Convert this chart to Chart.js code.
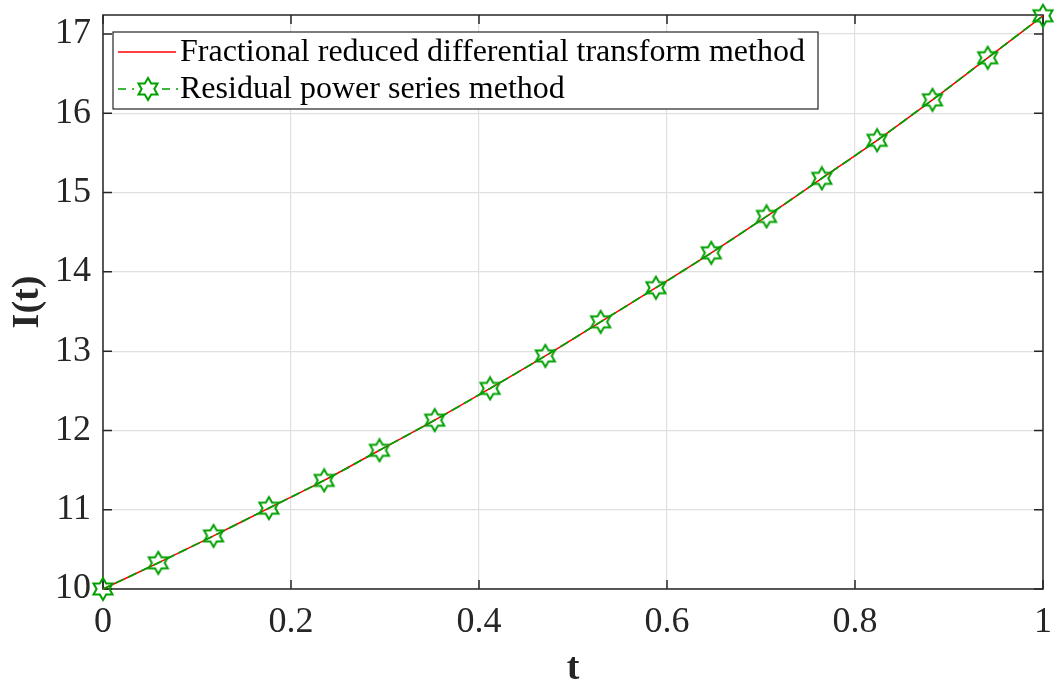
<!DOCTYPE html>
<html lang="en">
<head>
  <meta charset="UTF-8">
  <title>I(t)</title>
  <style>
    body { margin: 0; background: #fff; }
    #wrap { width: 1054px; height: 686px; }
  </style>
</head>
<body>
  <div id="wrap"><canvas id="myChart"></canvas></div>

  <script src="https://cdn.jsdelivr.net/npm/chart.js"></script>
  <script>
    // values
    const tValues = [0, 0.0588, 0.1176, 0.1765, 0.2353, 0.2941, 0.3529, 0.4118, 0.4706,
      0.5294, 0.5882, 0.6471, 0.7059, 0.7647, 0.8235, 0.8824, 0.9412, 1];
    const frdtm = [10.0, 10.33, 10.67, 11.02, 11.37, 11.75, 12.13, 12.53, 12.94,
      13.37, 13.80, 14.24, 14.70, 15.18, 15.66, 16.17, 16.70, 17.23];
    const rpsm = [10.0, 10.33, 10.67, 11.02, 11.37, 11.75, 12.13, 12.53, 12.94,
      13.37, 13.80, 14.24, 14.70, 15.18, 15.66, 16.17, 16.70, 17.23];
    const xTicks = [0, 0.2, 0.4, 0.6, 0.8, 1];
    const yTicks = [10, 11, 12, 13, 14, 15, 16, 17];
    const labels = ['Fractional reduced differential transform method', 'Residual power series method'];

    const serif = "'Liberation Serif', 'Times New Roman', serif";
    const green = 'rgb(0,160,0)';

    // hexagram marker
    const star = document.createElement('canvas');
    star.width = 26; star.height = 26;
    const sc = star.getContext('2d');
    sc.strokeStyle = green;
    sc.lineWidth = 2;
    sc.beginPath();
    for (let k = 0; k < 12; k++) {
      const r = k % 2 === 0 ? 11 : 6.4;
      const a = -Math.PI / 2 + k * Math.PI / 6;
      const px = 13 + r * Math.cos(a), py = 13 + r * Math.sin(a);
      if (k === 0) sc.moveTo(px, py); else sc.lineTo(px, py);
    }
    sc.closePath();
    sc.stroke();

    const toPts = (ys) => tValues.map((t, i) => ({ x: t, y: ys[i] }));

    const frame = {
      id: 'frame',
      beforeDatasetsDraw(chart) {
        const c = chart.ctx, a = chart.chartArea;
        const xs = chart.scales.x, ys = chart.scales.y;
        c.save();
        c.strokeStyle = '#262626';
        c.lineWidth = 1.5;
        c.strokeRect(a.left, a.top, a.right - a.left, a.bottom - a.top);
        // inward ticks
        c.beginPath();
        xTicks.forEach(v => {
          const px = xs.getPixelForValue(v);
          c.moveTo(px, a.bottom); c.lineTo(px, a.bottom - 9);
          c.moveTo(px, a.top); c.lineTo(px, a.top + 9);
        });
        yTicks.forEach(v => {
          const py = ys.getPixelForValue(v);
          c.moveTo(a.left, py); c.lineTo(a.left + 9, py);
          c.moveTo(a.right, py); c.lineTo(a.right - 9, py);
        });
        c.stroke();

        // legend box
        const lx = 113, ly = 32, lw = 705, lh = 77;
        c.fillStyle = '#fff';
        c.fillRect(lx, ly, lw, lh);
        c.strokeStyle = '#262626';
        c.lineWidth = 1.2;
        c.strokeRect(lx, ly, lw, lh);
        c.font = '32px ' + serif;
        c.fillStyle = '#000';
        c.textBaseline = 'middle';
        const rows = [ly + 20, ly + 57];
        // red entry
        c.strokeStyle = 'red';
        c.lineWidth = 1.5;
        c.beginPath(); c.moveTo(118, rows[0]); c.lineTo(176, rows[0]); c.stroke();
        c.fillText(labels[0], 180, rows[0] + 1);
        // green entry
        c.strokeStyle = green;
        c.setLineDash([8, 6, 2, 6]);
        c.beginPath(); c.moveTo(118, rows[1]); c.lineTo(178, rows[1]); c.stroke();
        c.setLineDash([]);
        c.fillStyle = '#fff';
        c.fillRect(140, rows[1] - 9, 18, 18);
        c.drawImage(star, 148 - 13, rows[1] - 13);
        c.fillStyle = '#000';
        c.fillText(labels[1], 180, rows[1] + 1);
        c.restore();
      }
    };

    new Chart(document.getElementById('myChart'), {
      type: 'line',
      data: {
        datasets: [
          {
            label: labels[0],
            data: toPts(frdtm),
            borderColor: 'red',
            borderWidth: 1.5,
            pointRadius: 0,
            tension: 0.3,
            order: 2,
            clip: false
          },
          {
            label: labels[1],
            data: toPts(rpsm),
            borderColor: green,
            borderWidth: 1.8,
            borderDash: [9, 5],
            pointStyle: star,
            pointRadius: 11,
            tension: 0.3,
            order: 1,
            clip: false
          }
        ]
      },
      options: {
        responsive: true,
        maintainAspectRatio: false,
        animation: false,
        layout: { autoPadding: false, padding: { top: 15, right: 11, left: 0, bottom: 0 } },
        plugins: { legend: { display: false }, tooltip: { enabled: false } },
        scales: {
          x: {
            type: 'linear',
            min: 0, max: 1,
            afterBuildTicks: s => { s.ticks = xTicks.map(v => ({ value: v })); },
            afterFit: s => { s.height = 97; s.paddingLeft = 0; s.paddingRight = 0; },
            grid: { color: '#e0e0e0', lineWidth: 1.2, drawTicks: false },
            border: { display: false },
            ticks: {
              padding: 12,
              color: '#262626',
              font: { family: serif, size: 36 },
              callback: v => String(v)
            },
            title: {
              display: true, text: 't', color: '#262626',
              font: { family: serif, size: 38, weight: 'bold', lineHeight: 0.9 },
              padding: { top: 0, bottom: 0 }
            }
          },
          y: {
            min: 10, max: 17.24,
            afterBuildTicks: s => { s.ticks = yTicks.map(v => ({ value: v })); },
            afterFit: s => { s.width = 103; s.paddingTop = 0; s.paddingBottom = 0; },
            grid: { color: '#e0e0e0', lineWidth: 1.2, drawTicks: false },
            border: { display: false },
            ticks: {
              padding: 12,
              color: '#262626',
              font: { family: serif, size: 36 },
              callback: v => String(v)
            },
            title: {
              display: true, text: 'I(t)', color: '#262626',
              font: { family: serif, size: 38, weight: 'bold', lineHeight: 1.2 },
              padding: { top: 5, bottom: 0 }
            }
          }
        }
      },
      plugins: [frame]
    });
  </script>
</body>
</html>
